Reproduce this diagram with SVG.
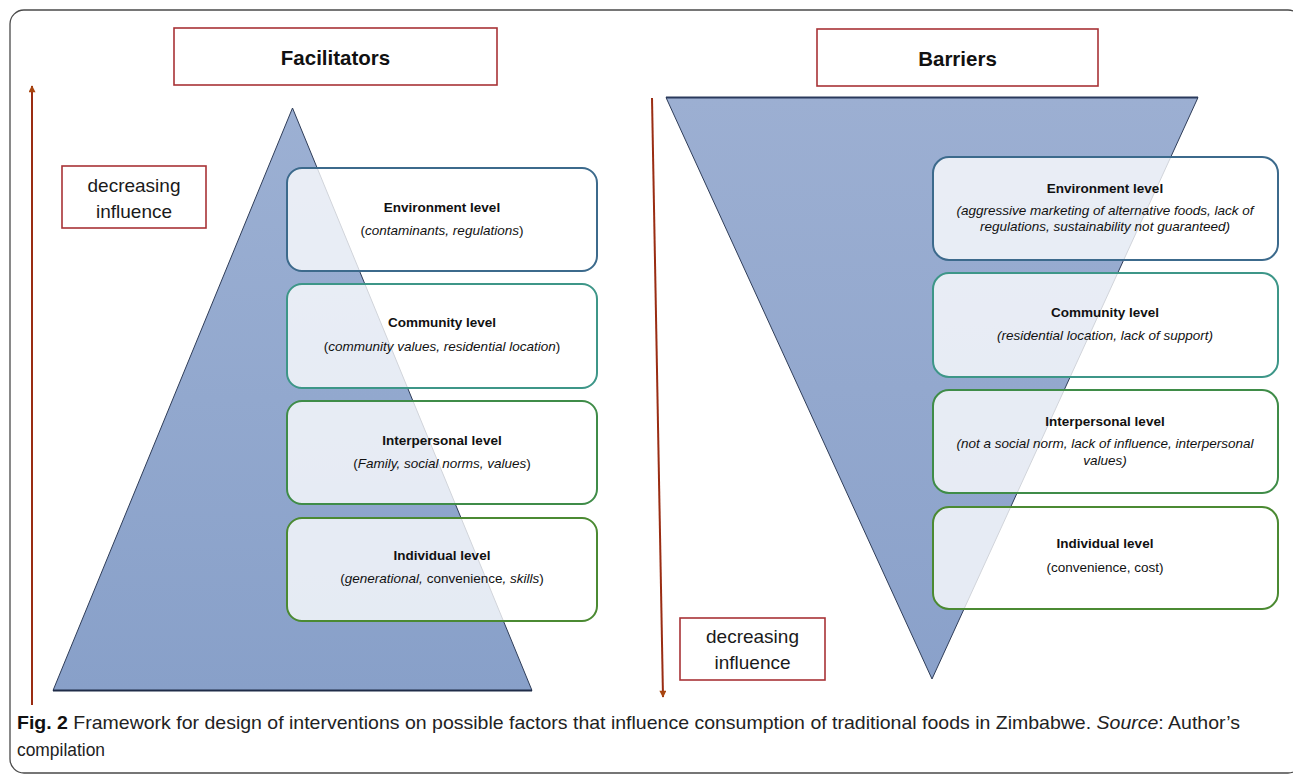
<svg xmlns="http://www.w3.org/2000/svg" width="1293" height="774" viewBox="0 0 1293 774">
  <defs>
    <linearGradient id="triFill" x1="0" y1="0" x2="0" y2="1">
      <stop offset="0" stop-color="#9cb0d3"/>
      <stop offset="1" stop-color="#88a0c9"/>
    </linearGradient>
    <linearGradient id="triFillDown" x1="0" y1="0" x2="0" y2="1">
      <stop offset="0" stop-color="#9cafd2"/>
      <stop offset="1" stop-color="#8aa1ca"/>
    </linearGradient>
    <marker id="arrowHead" viewBox="0 0 10 10" refX="9" refY="5" markerWidth="8" markerHeight="7" markerUnits="userSpaceOnUse" orient="auto">
      <path d="M0,0 L10,5 L0,10 z" fill="#a8450f"/>
    </marker>
    <style>
      .frame { fill: #ffffff; stroke: #4a4a4a; stroke-width: 1.3; }
      .redbox { fill: #ffffff; stroke: #a83236; stroke-width: 1.6; }
      .tri { stroke: #2e3c58; stroke-width: 1; stroke-linejoin: miter; }
      .level { fill: #ffffff; fill-opacity: 0.78; stroke-width: 2; }
      .env { stroke: #3c6a8c; }
      .com { stroke: #3d9688; }
      .inter { stroke: #3f8c48; }
      .indiv { stroke: #4b8a32; }
      .head { font-family: "Liberation Sans", Arial, sans-serif; font-weight: bold; font-size: 20.5px; fill: #111; text-anchor: middle; }
      .infl { font-family: "Liberation Sans", Arial, sans-serif; font-size: 19px; fill: #1a1a1a; text-anchor: middle; }
      .title { font-family: "Liberation Sans", Arial, sans-serif; font-weight: bold; font-size: 13.5px; fill: #111; text-anchor: middle; }
      .sub { font-family: "Liberation Sans", Arial, sans-serif; font-style: italic; font-size: 13.5px; fill: #111; text-anchor: middle; }
      .up { font-style: normal; }
      .axis { stroke: #9a2c12; stroke-width: 2; fill: none; }
      .cap { font-family: "Liberation Sans", Arial, sans-serif; font-size: 19px; fill: #222; }
    </style>
  </defs>

  <!-- figure frame -->
  <rect class="frame" x="10" y="10" width="1292" height="763" rx="14" ry="14"/>

  <!-- left pyramid (facilitators) -->
  <g id="pyramid-facilitators">
    <polygon class="tri" points="292.5,108 53,690.5 532,690.5" fill="url(#triFill)"/>
    <line x1="53" y1="690.5" x2="532" y2="690.5" stroke="#1f2c48" stroke-width="2"/>
  </g>

  <!-- right inverted pyramid (barriers) -->
  <g id="pyramid-barriers">
    <polygon class="tri" points="666,97.5 1198,97.5 932,679" fill="url(#triFillDown)"/>
    <line x1="666" y1="97.5" x2="1198" y2="97.5" stroke="#2a3a5c" stroke-width="2"/>
  </g>

  <!-- influence axes -->
  <g id="connectors">
    <line class="axis" x1="32" y1="705" x2="32" y2="86" marker-end="url(#arrowHead)"/>
    <line class="axis" x1="652" y1="98" x2="663" y2="697" marker-end="url(#arrowHead)"/>
  </g>

  <!-- headers -->
  <g id="header-facilitators">
    <rect class="redbox" x="174" y="28" width="323" height="57"/>
    <text class="head" x="335.5" y="65">Facilitators</text>
  </g>
  <g id="header-barriers">
    <rect class="redbox" x="817" y="29" width="281" height="57"/>
    <text class="head" x="957.5" y="66">Barriers</text>
  </g>

  <!-- influence labels -->
  <g id="label-influence-left">
    <rect class="redbox" x="62" y="166" width="144" height="62"/>
    <text class="infl" x="134" y="192">decreasing</text>
    <text class="infl" x="134" y="218">influence</text>
  </g>
  <g id="label-influence-right">
    <rect class="redbox" x="680" y="618" width="145" height="62"/>
    <text class="infl" x="752.5" y="643">decreasing</text>
    <text class="infl" x="752.5" y="669">influence</text>
  </g>

  <!-- facilitator levels -->
  <g id="fac-environment">
    <rect class="level env" x="287" y="168" width="310" height="103" rx="15"/>
    <text class="title" x="442" y="212">Environment level</text>
    <text class="sub" x="442" y="235"><tspan class="up">(</tspan>contaminants, regulations<tspan class="up">)</tspan></text>
  </g>
  <g id="fac-community">
    <rect class="level com" x="287" y="284" width="310" height="104" rx="15"/>
    <text class="title" x="442" y="327">Community level</text>
    <text class="sub" x="442" y="351"><tspan class="up">(</tspan>community values, residential location<tspan class="up">)</tspan></text>
  </g>
  <g id="fac-interpersonal">
    <rect class="level inter" x="287" y="401" width="310" height="103" rx="15"/>
    <text class="title" x="442" y="445">Interpersonal level</text>
    <text class="sub" x="442" y="468"><tspan class="up">(</tspan>Family, social norms, values<tspan class="up">)</tspan></text>
  </g>
  <g id="fac-individual">
    <rect class="level indiv" x="287" y="518" width="310" height="103" rx="15"/>
    <text class="title" x="442" y="560">Individual level</text>
    <text class="sub" x="442" y="583"><tspan class="up">(</tspan>generational, <tspan class="up">convenience</tspan>, skills<tspan class="up">)</tspan></text>
  </g>

  <!-- barrier levels -->
  <g id="bar-environment">
    <rect class="level env" x="933" y="157" width="345" height="103" rx="16"/>
    <text class="title" x="1105" y="193">Environment level</text>
    <text class="sub" x="1105" y="215">(aggressive marketing of alternative foods, lack of</text>
    <text class="sub" x="1105" y="231">regulations, sustainability not guaranteed)</text>
  </g>
  <g id="bar-community">
    <rect class="level com" x="933" y="273" width="345" height="104" rx="16"/>
    <text class="title" x="1105" y="317">Community level</text>
    <text class="sub" x="1105" y="340">(residential location, lack of support)</text>
  </g>
  <g id="bar-interpersonal">
    <rect class="level inter" x="933" y="390" width="345" height="103" rx="16"/>
    <text class="title" x="1105" y="426">Interpersonal level</text>
    <text class="sub" x="1105" y="448">(not a social norm, lack of influence, interpersonal</text>
    <text class="sub" x="1105" y="465">values)</text>
  </g>
  <g id="bar-individual">
    <rect class="level indiv" x="933" y="507" width="345" height="102" rx="16"/>
    <text class="title" x="1105" y="548">Individual level</text>
    <text class="sub up" x="1105" y="572">(convenience, cost)</text>
  </g>

  <!-- caption -->
  <g id="caption">
    <text class="cap" x="17" y="729" textLength="1223" lengthAdjust="spacingAndGlyphs"><tspan font-weight="bold" fill="#111">Fig. 2</tspan>  Framework for design of interventions on possible factors that influence consumption of traditional foods in Zimbabwe. <tspan font-style="italic">Source</tspan>: Author’s</text>
    <text class="cap" x="17" y="756" textLength="88" lengthAdjust="spacingAndGlyphs">compilation</text>
  </g>
</svg>
